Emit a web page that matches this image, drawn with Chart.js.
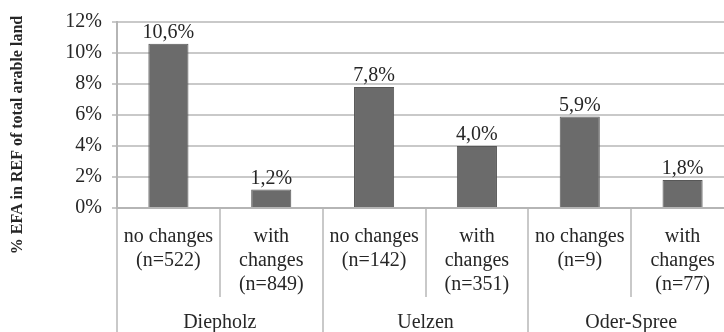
<!DOCTYPE html>
<html>
<head>
<meta charset="utf-8">
<script src="https://cdn.jsdelivr.net/npm/chart.js@4/dist/chart.umd.min.js"></script>
<style>
  html, body { margin: 0; padding: 0; background: #fff; overflow: hidden; }
  #wrap { position: absolute; left: 0; top: 0; width: 740px; height: 347px; }
</style>
</head>
<body>
<div id="wrap"><canvas id="efaChart" width="740" height="347"></canvas></div>
<script>
// categories (inner level) and regions (outer level)
const categories = [
    ['no changes', '(n=522)'],
    ['with', 'changes', '(n=849)'],
    ['no changes', '(n=142)'],
    ['with', 'changes', '(n=351)'],
    ['no changes', '(n=9)'],
    ['with', 'changes', '(n=77)']
];
const regions = ['Diepholz', 'Uelzen', 'Oder-Spree'];
const efaShare = [10.6, 1.2, 7.8, 4.0, 5.9, 1.8];
const yTicks = [0, 2, 4, 6, 8, 10, 12];
const yTitle = '% EFA in REF of total arable land';

const serif = "'Liberation Serif', 'Times New Roman', serif";
const textColor = '#262626';
const gridColor = '#c9c9c9';

// value labels above bars
const barLabels = {
    id: 'barLabels',
    afterDatasetsDraw(chart) {
        const ctx = chart.ctx;
        const meta = chart.getDatasetMeta(0);
        ctx.save();
        ctx.font = '20px ' + serif;
        ctx.fillStyle = textColor;
        ctx.textAlign = 'center';
        ctx.textBaseline = 'middle';
        meta.data.forEach((bar, i) => {
            const txt = efaShare[i].toFixed(1).replace('.', ',') + '%';
            ctx.fillText(txt, bar.x, bar.y - 11);
        });
        ctx.restore();
    }
};

// rotated y title, centred a bit lower than the plot like the original
const yTitlePlugin = {
    id: 'yTitlePlugin',
    afterDraw(chart) {
        const ctx = chart.ctx;
        ctx.save();
        ctx.translate(18, 135);
        ctx.rotate(-Math.PI / 2);
        ctx.font = 'bold 16px ' + serif;
        ctx.fillStyle = textColor;
        ctx.textAlign = 'center';
        ctx.textBaseline = 'middle';
        ctx.fillText(yTitle, 0, 0);
        ctx.restore();
    }
};

new Chart(document.getElementById('efaChart'), {
    type: 'bar',
    data: {
        labels: categories,
        datasets: [{
            data: efaShare,
            backgroundColor: '#6b6b6b',
            borderColor: '#575757',
            borderWidth: 1,
            barPercentage: 0.39,
            categoryPercentage: 1
        }]
    },
    options: {
        responsive: false,
        animation: false,
        layout: { padding: { top: 19, right: 6, left: 0, bottom: 0 } },
        plugins: { legend: { display: false }, tooltip: { enabled: false } },
        scales: {
            y: {
                min: 0,
                max: 12,
                afterBuildTicks: (scale) => { scale.ticks = yTicks.map(v => ({ value: v })); },
                afterFit: (scale) => { scale.width = 117; },
                ticks: {
                    callback: v => v + '%',
                    font: { family: serif, size: 20 },
                    color: textColor,
                    padding: 10
                },
                grid: { color: gridColor, lineWidth: 2, tickLength: 5 },
                border: { color: '#b5b5b5', width: 2 }
            },
            x: {
                weight: 0,
                afterFit: (scale) => { scale.height = 89; },
                ticks: {
                    font: { family: serif, size: 20, lineHeight: 1.2 },
                    color: textColor,
                    padding: -72,
                    maxRotation: 0,
                    autoSkip: false
                },
                grid: { drawOnChartArea: false, color: gridColor, lineWidth: 2, tickLength: 89 },
                border: { color: '#b5b5b5', width: 2 }
            },
            x2: {
                type: 'category',
                labels: regions,
                position: 'bottom',
                weight: 1,
                offset: true,
                afterFit: (scale) => { scale.height = 50; },
                ticks: {
                    font: { family: serif, size: 20, lineHeight: 1.2 },
                    color: textColor,
                    padding: -36,
                    maxRotation: 0
                },
                grid: { offset: true, drawOnChartArea: false, color: gridColor, lineWidth: 2, tickLength: 50 },
                border: { display: false }
            }
        }
    },
    plugins: [barLabels, yTitlePlugin]
});
</script>
</body>
</html>
